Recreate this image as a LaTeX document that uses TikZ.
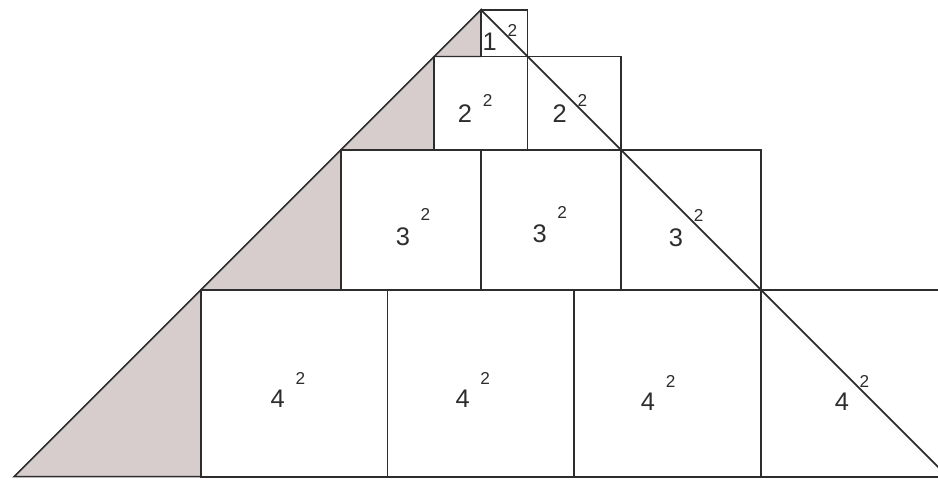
\documentclass[tikz,border=0pt]{standalone}
\usepackage{fontspec}
\setmainfont{Liberation Sans}
\definecolor{GrisTinta}{RGB}{45,45,45}
\definecolor{GrisSombra}{RGB}{214,205,204}
\newcommand{\supsize}{\fontsize{10.5}{11}\selectfont}
\newcommand{\pw}[2][14pt]{#2\rlap{\hspace{6.5pt}\raisebox{#1}{\supsize 2}}}
\tikzset{
  sqbox/.style={draw=GrisTinta, line width=1.1pt},
  shadearea/.style={fill=GrisSombra, draw=GrisTinta, line width=0.9pt, line join=miter},
  diagline/.style={draw=GrisTinta, line width=1.1pt},
  sqlabel/.style={anchor=base, inner sep=0pt, text=GrisTinta,
    font=\fontsize{15.5}{18}\selectfont},
}

\begin{document}
\begin{tikzpicture}
  \useasboundingbox (-10.3,0.21) rectangle (9.79,-10.13);
  \clip (-10.3,0.21) rectangle (9.79,-10.13);
  % zona sombreada a la izquierda
  \path[shadearea] (0,0) -- (-10,-10) -- (-6,-10) -- (-6,-6) -- (-3,-6) -- (-3,-3)
    -- (-1,-3) -- (-1,-1) -- (0,-1) -- cycle;
  % filas de cuadrados
  \draw[sqbox] (0,0) rectangle (1,-1);
  \foreach \x in {-1,1} \draw[sqbox] (\x,-1) rectangle ++(2,-2);
  \foreach \x in {-3,0,3} \draw[sqbox] (\x,-3) rectangle ++(3,-3);
  \foreach \x in {-6,-2,2,6} \draw[sqbox] (\x,-6) rectangle ++(4,-4);
  \coordinate (apex) at (0,0);
  \coordinate (base) at (10,-10);
  \draw[diagline] (apex) -- (base);
  % etiquetas
  \node[sqlabel] (q1)  at (0.19,-0.88)  {\pw[9pt]{1}};
  \node[sqlabel] (q2a) at (-0.34,-2.42) {\pw[10pt]{2}};
  \node[sqlabel] (q2b) at (1.69,-2.42)  {\pw[10pt]{2}};
  \node[sqlabel] (q3a) at (-1.67,-5.05) {\pw[15pt]{3}};
  \node[sqlabel] (q3b) at (1.26,-4.99)  {\pw[15pt]{3}};
  \node[sqlabel] (q3c) at (4.18,-5.07)  {\pw[15pt]{3}};
  \node[sqlabel] (q4a) at (-4.35,-8.52) {\pw{4}};
  \node[sqlabel] (q4b) at (-0.39,-8.52) {\pw{4}};
  \node[sqlabel] (q4c) at (3.58,-8.59)  {\pw{4}};
  \node[sqlabel] (q4d) at (7.73,-8.59)  {\pw{4}};
\end{tikzpicture}
\end{document}
